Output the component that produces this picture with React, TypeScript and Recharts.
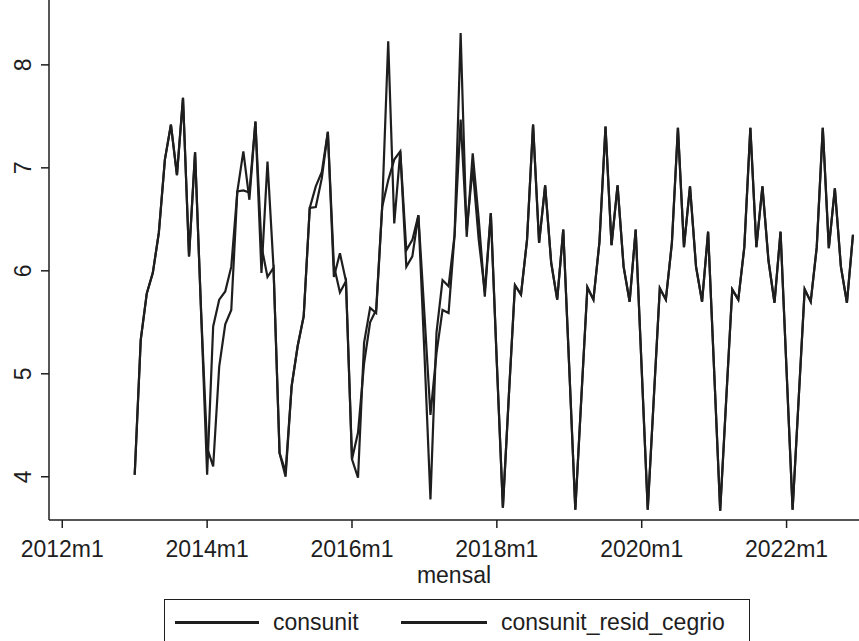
import React from "react";
import { LineChart, Line, XAxis, YAxis } from "recharts";

// months counted from 2012m1; the series start in 2013m1
const startMonth = 12;
const xTicks = [0, 24, 48, 72, 96, 120];
const xTickLabels = ["2012m1", "2014m1", "2016m1", "2018m1", "2020m1", "2022m1"];
const yTicks = [4, 5, 6, 7, 8];

// 2013m1 .. 2022m12, one row per year
const consunit = [
  4.02, 5.33, 5.78, 5.98, 6.37, 7.08, 7.42, 6.93, 7.68, 6.14, 7.15, 5.6,
  4.02, 5.46, 5.72, 5.8, 6.04, 6.77, 7.16, 6.69, 7.45, 5.98, 7.06, 6.03,
  4.23, 4.0, 4.88, 5.27, 5.56, 6.61, 6.82, 6.96, 7.35, 5.94, 6.17, 5.9,
  4.17, 3.99, 5.3, 5.64, 5.59, 6.62, 8.23, 6.46, 7.16, 6.04, 6.14, 6.54,
  5.2, 3.78, 5.4, 5.91, 5.85, 6.35, 8.31, 6.33, 7.14, 6.5, 5.75, 6.56,
  5.1, 3.7, 4.8, 5.86, 5.77, 6.3, 7.42, 6.27, 6.83, 6.08, 5.72, 6.4,
  5.05, 3.68, 4.77, 5.84, 5.72, 6.28, 7.4, 6.25, 6.83, 6.04, 5.7, 6.4,
  5.04, 3.68, 4.76, 5.83, 5.72, 6.27, 7.39, 6.23, 6.82, 6.04, 5.7, 6.38,
  5.03, 3.67, 4.75, 5.82, 5.72, 6.23, 7.39, 6.23, 6.82, 6.1, 5.69, 6.38,
  5.03, 3.68, 4.75, 5.82, 5.7, 6.23, 7.39, 6.22, 6.8, 6.04, 5.69, 6.35,
];

const consunitResidCegrio = [
  4.02, 5.33, 5.78, 5.98, 6.37, 7.08, 7.42, 6.93, 7.68, 6.14, 7.15, 5.6,
  4.28, 4.1, 5.07, 5.48, 5.62, 6.77, 6.78, 6.76, 7.45, 6.24, 5.94, 6.03,
  4.23, 4.05, 4.88, 5.27, 5.56, 6.61, 6.62, 6.9, 7.35, 6.05, 5.79, 5.9,
  4.17, 4.43, 5.1, 5.5, 5.62, 6.62, 6.88, 7.08, 7.16, 6.2, 6.3, 6.54,
  5.58, 4.6, 5.2, 5.62, 5.59, 6.35, 7.47, 6.4, 7.0, 6.3, 5.8, 6.56,
  5.1, 3.7, 4.8, 5.86, 5.77, 6.3, 7.42, 6.27, 6.83, 6.08, 5.72, 6.4,
  5.05, 3.68, 4.77, 5.84, 5.72, 6.28, 7.4, 6.25, 6.83, 6.04, 5.7, 6.4,
  5.04, 3.68, 4.76, 5.83, 5.72, 6.27, 7.39, 6.23, 6.82, 6.04, 5.7, 6.38,
  5.03, 3.67, 4.75, 5.82, 5.72, 6.23, 7.39, 6.23, 6.82, 6.1, 5.69, 6.38,
  5.03, 3.68, 4.75, 5.82, 5.7, 6.23, 7.39, 6.22, 6.8, 6.04, 5.69, 6.35,
];

const data = consunit.map((v, i) => ({
  t: startMonth + i,
  consunit: v,
  consunit_resid_cegrio: consunitResidCegrio[i],
}));

const ink = "#1e1e1e";
const font = "'Liberation Sans', Arial, sans-serif";

const XTick = ({ x, y, payload }: any) => (
  <text x={x} y={y} dy="0.71em" textAnchor="middle" fontSize={23} fill={ink} fontFamily={font}>
    {xTickLabels[xTicks.indexOf(payload.value)]}
  </text>
);

const YTick = ({ x, y, payload }: any) => (
  <text
    x={x}
    y={y}
    transform={`rotate(-90, ${x}, ${y})`}
    textAnchor="middle"
    fontSize={23}
    fill={ink}
    fontFamily={font}
  >
    {payload.value}
  </text>
);

const MensalLabel = ({ viewBox }: any) => {
  const vb = viewBox || { x: 49, y: 520, width: 810 };
  return (
    <text x={vb.x + vb.width / 2} y={vb.y + 63} textAnchor="middle" fontSize={23} fill={ink} fontFamily={font}>
      mensal
    </text>
  );
};

const Legend = () => (
  <div
    style={{
      position: "absolute",
      left: 164,
      top: 599,
      width: 584,
      height: 60,
      border: `1.5px solid ${ink}`,
      background: "#fff",
      fontFamily: font,
      fontSize: 23,
      color: ink,
    }}
  >
    <div style={{ position: "absolute", left: 10, top: 21, width: 84, height: 3, background: ink }} />
    <div style={{ position: "absolute", left: 108, top: 8, lineHeight: "28px" }}>consunit</div>
    <div style={{ position: "absolute", left: 236, top: 21, width: 86, height: 3, background: ink }} />
    <div style={{ position: "absolute", left: 336, top: 8, lineHeight: "28px" }}>consunit_resid_cegrio</div>
  </div>
);

const App = () => {
  return (
    <div style={{ position: "absolute", left: 0, top: 0, width: 859, height: 641, overflow: "hidden", background: "#fff" }}>
      <LineChart width={859} height={641} data={data} margin={{ top: 0, right: 0, bottom: 0, left: 0 }}>
        <XAxis
          dataKey="t"
          type="number"
          domain={[-2.2, 132]}
          allowDataOverflow
          ticks={xTicks}
          interval={0}
          height={121}
          tickSize={8}
          tickMargin={13}
          tick={<XTick />}
          axisLine={{ stroke: ink, strokeWidth: 1.5 }}
          tickLine={{ stroke: ink, strokeWidth: 1.5 }}
          label={<MensalLabel />}
        />
        <YAxis
          type="number"
          domain={[3.58, 8.63]}
          allowDataOverflow
          ticks={yTicks}
          interval={0}
          width={49}
          tickSize={8}
          tickMargin={10}
          tick={<YTick />}
          axisLine={{ stroke: ink, strokeWidth: 1.5 }}
          tickLine={{ stroke: ink, strokeWidth: 1.5 }}
        />
        <Line
          type="linear"
          dataKey="consunit_resid_cegrio"
          stroke={ink}
          strokeWidth={2.2}
          dot={false}
          isAnimationActive={false}
        />
        <Line
          type="linear"
          dataKey="consunit"
          stroke={ink}
          strokeWidth={2.2}
          dot={false}
          isAnimationActive={false}
        />
      </LineChart>
      <Legend />
    </div>
  );
};

export default App;
